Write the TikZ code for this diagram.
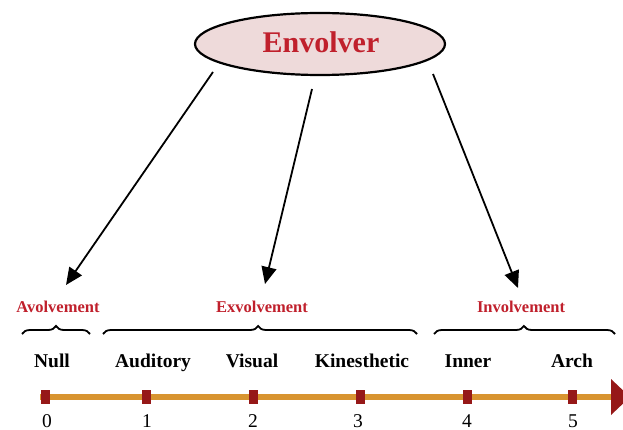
\documentclass[tikz,border=0pt]{standalone}
\usepackage{fontspec}
\setmainfont{Liberation Serif}
\usetikzlibrary{shapes.geometric,arrows.meta,decorations.pathreplacing}
\definecolor{redtxt}{RGB}{192,32,44}
\definecolor{ellfill}{RGB}{238,218,218}
\definecolor{axisor}{RGB}{216,148,48}
\definecolor{tickred}{RGB}{150,24,24}
\tikzset{
  envnode/.style={ellipse,draw=black,line width=2.2pt,fill=ellfill,minimum width=250pt,minimum height=62pt,inner sep=0pt},
  envtxt/.style={font=\fontsize{30}{32}\selectfont\bfseries,text=redtxt,inner sep=0pt,anchor=base},
  grouplbl/.style={font=\fontsize{16.5}{18}\selectfont\bfseries,text=redtxt,inner sep=0pt,anchor=base},
  catlbl/.style={font=\fontsize{19.5}{21}\selectfont\bfseries,inner sep=0pt,anchor=base},
  numlbl/.style={font=\fontsize{19.5}{21}\selectfont,inner sep=0pt,anchor=base},
  conn/.style={line width=1.8pt,-{Triangle[length=17pt,width=15pt]}},
  bracepath/.style={line width=1.8pt,decorate,decoration={brace,amplitude=8pt}},
  tickmark/.style={fill=tickred,minimum width=9pt,minimum height=14pt,inner sep=0pt},
}
\begin{document}
\begin{tikzpicture}[x=1pt,y=-1pt]
\useasboundingbox (0,0) rectangle (623,430);
\node[envnode] (env) at (320,44) {};
\node[envtxt] (envt) at (321,53) {Envolver};
% arrow ends
\coordinate (s1) at (213,72);
\coordinate (e1) at (66,285);
\coordinate (s2) at (312,89);
\coordinate (e2) at (265,284);
\coordinate (s3) at (433,74);
\coordinate (e3) at (518,288);
\draw[conn] (s1) -- (e1);
\draw[conn] (s2) -- (e2);
\draw[conn] (s3) -- (e3);
% group labels
\node[grouplbl] (avol) at (58,312) {Avolvement};
\node[grouplbl] (exvol) at (262,312) {Exvolvement};
\node[grouplbl] (invol) at (521,312) {Involvement};
% braces
\coordinate (b1l) at (22,334); \coordinate (b1r) at (90,334);
\coordinate (b2l) at (103,334); \coordinate (b2r) at (417,334);
\coordinate (b3l) at (434,334); \coordinate (b3r) at (615,334);
\draw[bracepath] (b1l) -- (b1r);
\draw[bracepath,decoration={brace,amplitude=8pt,aspect=0.494}] (b2l) -- (b2r);
\draw[bracepath,decoration={brace,amplitude=8pt,aspect=0.497}] (b3l) -- (b3r);
% categories
\node[catlbl] (c0) at (52,367) {Null};
\node[catlbl] (c1) at (153,367) {Auditory};
\node[catlbl] (c2) at (252,367) {Visual};
\node[catlbl] (c3) at (362,367) {Kinesthetic};
\node[catlbl] (c4) at (468,367) {Inner};
\node[catlbl] (c5) at (572,367) {Arch};
% axis
\coordinate (axl) at (40,397);
\coordinate (axr) at (614,397);
\draw[axisor,line width=6.5pt] (axl) -- (axr);
\fill[tickred] (611,379) -- (630,397) -- (611,415) -- cycle;
\foreach \i/\x in {0/45.5,1/146.5,2/253.5,3/360.5,4/467,5/572}{
  \node[tickmark] (t\i) at (\x,397) {};
}
\node[numlbl] (n0) at (47,427) {0};
\node[numlbl] (n1) at (147,427) {1};
\node[numlbl] (n2) at (253,427) {2};
\node[numlbl] (n3) at (358,427) {3};
\node[numlbl] (n4) at (467,427) {4};
\node[numlbl] (n5) at (573,427) {5};
\end{tikzpicture}
\end{document}
